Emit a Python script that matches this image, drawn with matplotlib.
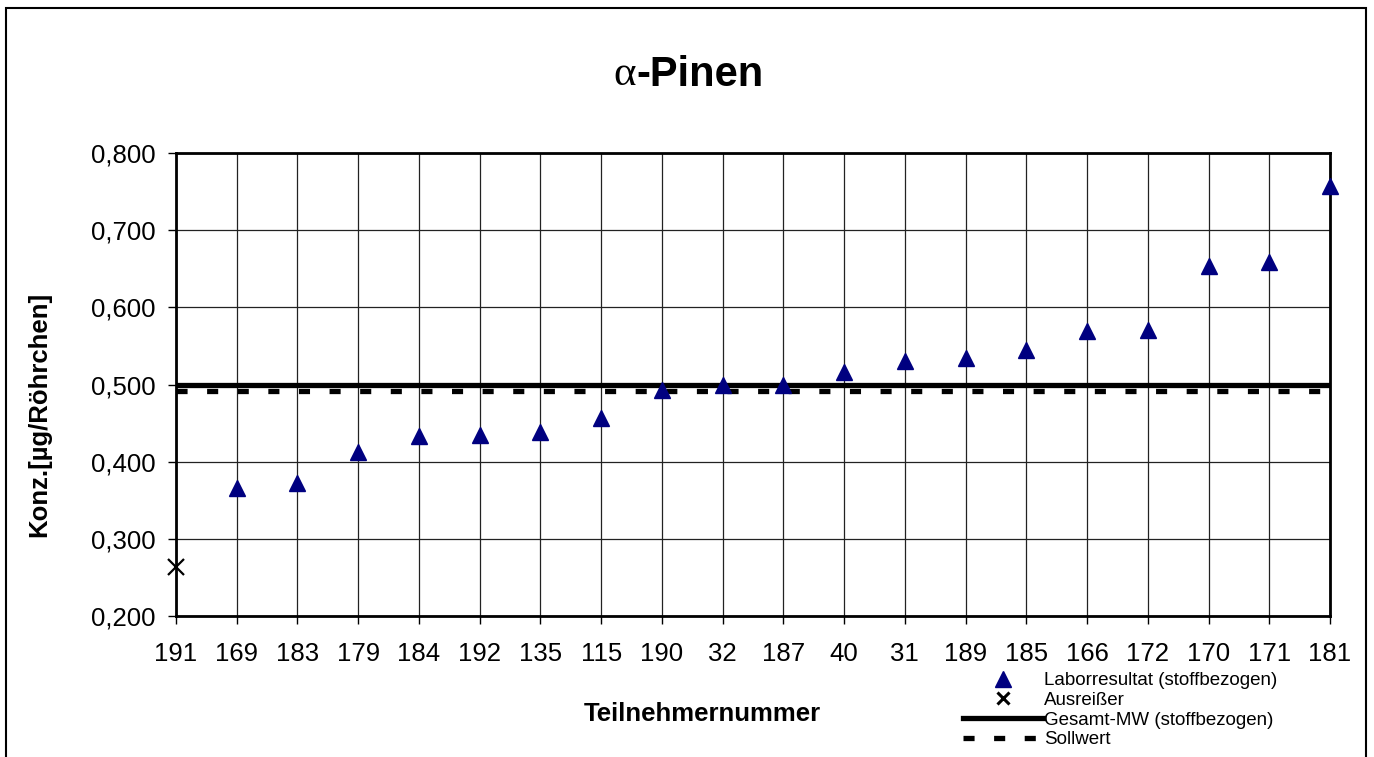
import matplotlib
matplotlib.use("Agg")
import matplotlib.pyplot as plt
from matplotlib.lines import Line2D
from matplotlib.patches import Rectangle
from matplotlib.ticker import FuncFormatter

plt.rcParams['font.family'] = ['Liberation Sans', 'DejaVu Sans']

participants = ["191", "169", "183", "179", "184", "192", "135", "115", "190", "32",
                "187", "40", "31", "189", "185", "166", "172", "170", "171", "181"]
results = [None, 0.366, 0.372, 0.413, 0.433, 0.434, 0.438, 0.456, 0.493, 0.499,
           0.499, 0.516, 0.531, 0.534, 0.545, 0.569, 0.571, 0.653, 0.659, 0.757]
outliers = [0.263] + [None] * 19
overall_mean = 0.500
target_value = 0.491

W, H = 1374, 757
fig = plt.figure(figsize=(W / 100, H / 100), dpi=100)
ax = fig.add_axes([176/W, 1-616/H, (1330-176)/W, (616-153)/H])

xs = list(range(len(participants)))
rx = [x for x, v in zip(xs, results) if v is not None]
ry = [v for v in results if v is not None]
ox = [x for x, v in zip(xs, outliers) if v is not None]
oy = [v for v in outliers if v is not None]

ax.set_xlim(0, len(participants) - 1)
ax.set_ylim(0.2, 0.8)
ax.set_yticks([0.2, 0.3, 0.4, 0.5, 0.6, 0.7, 0.8])
ax.yaxis.set_major_formatter(FuncFormatter(lambda v, p: f"{v:.3f}".replace('.', ',')))
ax.set_xticks(xs)
ax.set_xticklabels(participants)
ax.grid(True, color='#222222', linewidth=0.9)
ax.set_axisbelow(True)

dash = (0, (2.1, 3.7))
ax.axhline(overall_mean, color='black', linewidth=3.8, zorder=3)
ax.axhline(target_value, color='black', linewidth=3.8, linestyle=dash, zorder=3)
ax.plot(rx, ry, linestyle='none', marker='^', markersize=11, color='#000080', zorder=5, clip_on=False)
ax.plot(ox, oy, linestyle='none', marker='x', markersize=11, markeredgewidth=1.6, color='black',
        zorder=5, clip_on=False)

for s in ax.spines.values():
    s.set_linewidth(2)
ax.tick_params(axis='both', labelsize=18.5, length=6, width=1, direction='out')
ax.tick_params(axis='x', pad=13)
ax.tick_params(axis='y', pad=9)

fig.text(636/W, 1-75/H, "α", ha='right', va='center', fontsize=31,
         family=['Liberation Serif', 'DejaVu Serif'])
fig.text(636/W, 1-75/H, "-Pinen", ha='left', va='center', fontsize=30, fontweight='bold')
fig.text(39/W, 1-414/H, "Konz.[µg/Röhrchen]", ha='center', va='center', rotation=90,
         fontsize=18.5, fontweight='bold')
fig.text(702/W, 1-714/H, "Teilnehmernummer", ha='center', va='center', fontsize=18.5, fontweight='bold')

handles = [
    Line2D([], [], linestyle='none', marker='^', markersize=11, color='#000080'),
    Line2D([], [], linestyle='none', marker='x', markersize=9, markeredgewidth=2.2, color='black'),
    Line2D([], [], color='black', linewidth=3.8),
    Line2D([], [], color='black', linewidth=3.8, linestyle=dash),
]
labels = ["Laborresultat (stoffbezogen)", "Ausreißer", "Gesamt-MW (stoffbezogen)", "Sollwert"]
fig.legend(handles, labels, loc='upper left', bbox_to_anchor=(963/W, 1-672/H),
           frameon=False, fontsize=13.5, handlelength=4.27, handletextpad=0.05,
           labelspacing=0.14, borderpad=0, borderaxespad=0)

fig.add_artist(Rectangle((6/W, -0.05), (1366-6)/W, 1.05-8/H, transform=fig.transFigure,
                         fill=False, edgecolor='black', linewidth=1.5))

fig.savefig("out.png", dpi=100)
